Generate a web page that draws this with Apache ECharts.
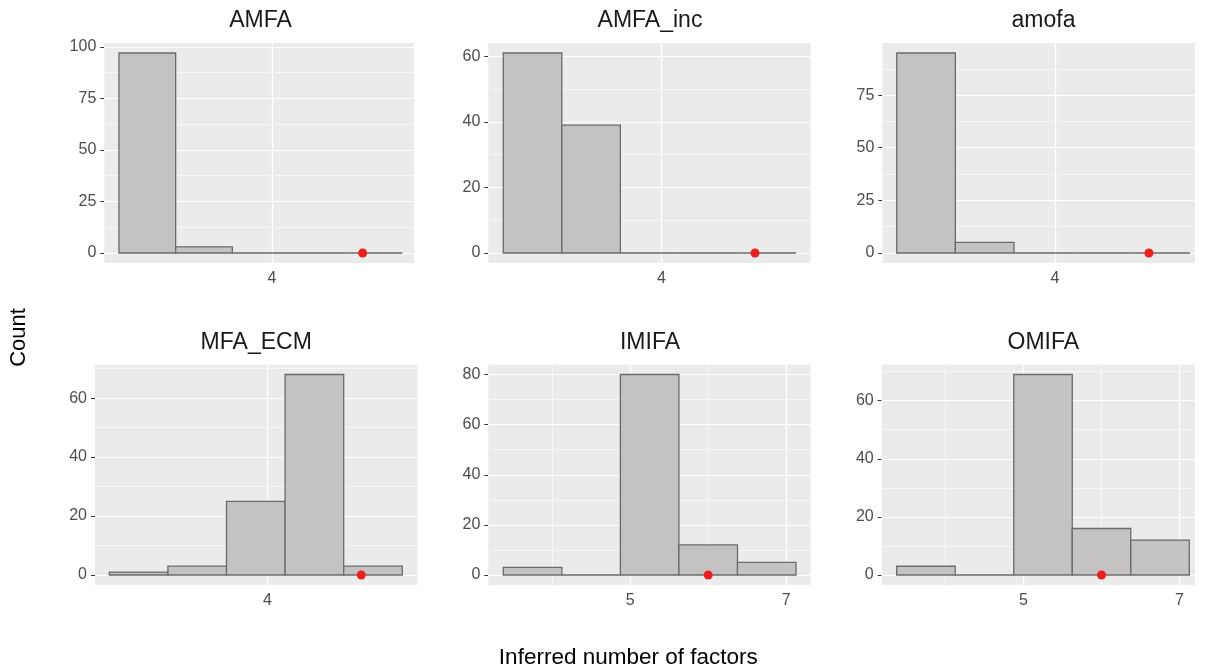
<!DOCTYPE html>
<html>
<head>
<meta charset="utf-8">
<script src="https://cdn.jsdelivr.net/npm/echarts@6/dist/echarts.min.js"></script>
<style>
html,body{margin:0;padding:0;background:#ffffff;}
#chart{width:1206px;height:671px;}
</style>
</head>
<body>
<div id="chart"></div>
<script>
// ---------------- data ----------------
const panelTitles = ['AMFA', 'AMFA_inc', 'amofa', 'MFA_ECM', 'IMIFA', 'OMIFA'];

// histogram bin edges (in "number of factors" units)
const binEdgesWide   = [0.625, 1.875, 3.125, 4.375, 5.625, 6.875];
const binEdgesNarrow = [3.375, 4.125, 4.875, 5.625, 6.375, 7.125];

// counts per bin
const countsAMFA    = [97, 3, 0, 0, 0];
const countsAMFAinc = [61, 39, 0, 0, 0];
const countsAmofa   = [95, 5, 0, 0, 0];
const countsMFAECM  = [1, 3, 25, 68, 3];
const countsIMIFA   = [3, 0, 80, 12, 5];
const countsOMIFA   = [3, 0, 69, 16, 12];

// true number of factors (red dot)
const trueFactors = 6;

// tick labels
const xTicks = [[4], [4], [4], [4], [5, 7], [5, 7]];
const xMinor = [[], [], [], [], [4, 6], [4, 6]];
const yTicks = [[0, 25, 50, 75, 100], [0, 20, 40, 60], [0, 25, 50, 75], [0, 20, 40, 60], [0, 20, 40, 60, 80], [0, 20, 40, 60]];
const yMinor = [[12.5, 37.5, 62.5, 87.5], [10, 30, 50], [12.5, 37.5, 62.5, 87.5], [10, 30, 50, 70], [10, 30, 50, 70], [10, 30, 50, 70]];

const xAxisTitle = 'Inferred number of factors';
const yAxisTitle = 'Count';

// ---------------- layout ----------------
const panelEdges = [binEdgesWide, binEdgesWide, binEdgesWide, binEdgesWide, binEdgesNarrow, binEdgesNarrow];
const panelCounts = [countsAMFA, countsAMFAinc, countsAmofa, countsMFAECM, countsIMIFA, countsOMIFA];

const layout = [
  {left: 104.3, top: 43,    width: 309.7, height: 220,   xMin: 0.301, xMax: 7.133, titleX: 260.5,  titleY: 20.7},
  {left: 488.3, top: 43,    width: 322.4, height: 220,   xMin: 0.305, xMax: 7.189, titleX: 650,    titleY: 20.7},
  {left: 882.3, top: 43,    width: 312.7, height: 220,   xMin: 0.318, xMax: 6.982, titleX: 1043.5, titleY: 20.7},
  {left: 95,    top: 364.5, width: 322.3, height: 220.5, xMin: 0.320, xMax: 7.195, titleX: 256.2,  titleY: 343},
  {left: 488.3, top: 364.5, width: 322.4, height: 220.5, xMin: 3.183, xMax: 7.313, titleX: 650,    titleY: 343},
  {left: 881.7, top: 364.5, width: 313.3, height: 220.5, xMin: 3.183, xMax: 7.198, titleX: 1043.3, titleY: 343}
];

const FONT = '"Liberation Sans", Arial, Helvetica, sans-serif';
const TITLE_FS = 23;

const grids = [], xAxes = [], yAxes = [], series = [], titles = [];

layout.forEach((L, i) => {
  const counts = panelCounts[i];
  const edges = panelEdges[i];
  const maxC = Math.max.apply(null, counts);
  grids.push({
    left: L.left, top: L.top, width: L.width, height: L.height,
    show: true, backgroundColor: '#EBEBEB', borderWidth: 0
  });
  titles.push({
    text: panelTitles[i], left: L.titleX, top: L.titleY - TITLE_FS / 2,
    textAlign: 'center', padding: 0,
    textStyle: {fontFamily: FONT, fontSize: TITLE_FS, fontWeight: 'normal', color: '#1A1A1A', lineHeight: TITLE_FS}
  });
  xAxes.push({
    gridIndex: i, type: 'value', min: L.xMin, max: L.xMax,
    axisLine: {show: false},
    axisTick: {show: true, length: 4, lineStyle: {color: '#333333', width: 1}, customValues: xTicks[i]},
    axisLabel: {customValues: xTicks[i], color: '#4D4D4D', fontSize: 16, fontFamily: FONT, margin: 8},
    splitLine: {show: false}
  });
  yAxes.push({
    gridIndex: i, type: 'value', min: -0.05 * maxC, max: 1.05 * maxC,
    axisLine: {show: false},
    axisTick: {show: true, length: 4, lineStyle: {color: '#333333', width: 1}, customValues: yTicks[i]},
    axisLabel: {customValues: yTicks[i], color: '#4D4D4D', fontSize: 16, fontFamily: FONT, margin: 8},
    splitLine: {show: false}
  });

  const gridLineData = [];
  yMinor[i].forEach(v => gridLineData.push({yAxis: v, lineStyle: {color: '#FFFFFF', width: 0.6, type: 'solid'}}));
  xMinor[i].forEach(v => gridLineData.push({xAxis: v, lineStyle: {color: '#FFFFFF', width: 0.6, type: 'solid'}}));
  yTicks[i].forEach(v => gridLineData.push({yAxis: v, lineStyle: {color: '#FFFFFF', width: 1.2, type: 'solid'}}));
  xTicks[i].forEach(v => gridLineData.push({xAxis: v, lineStyle: {color: '#FFFFFF', width: 1.2, type: 'solid'}}));

  series.push({
    type: 'line', xAxisIndex: i, yAxisIndex: i, data: [], silent: true, z: 1,
    markLine: {
      silent: true, symbol: 'none', z: 1, animation: false,
      label: {show: false}, emphasis: {disabled: true},
      data: gridLineData
    }
  });

  series.push({
    type: 'custom', xAxisIndex: i, yAxisIndex: i, z: 3, silent: true,
    data: counts.map((c, j) => [edges[j], edges[j + 1], c]),
    encode: {x: [0, 1], y: 2},
    renderItem: function (params, api) {
      const p0 = api.coord([api.value(0), api.value(2)]);
      const p1 = api.coord([api.value(1), 0]);
      return {
        type: 'rect',
        shape: {x: p0[0], y: p0[1], width: p1[0] - p0[0], height: p1[1] - p0[1]},
        style: {fill: '#C4C3C1', stroke: '#6B6B6B', lineWidth: 1.3}
      };
    }
  });

  series.push({
    type: 'scatter', xAxisIndex: i, yAxisIndex: i, z: 4, silent: true,
    data: [[trueFactors, 0]], symbol: 'circle', symbolSize: 9,
    itemStyle: {color: '#F01D1D', opacity: 1}
  });
});

const chart = echarts.init(document.getElementById('chart'), null, {renderer: 'canvas'});
chart.setOption({
  animation: false,
  backgroundColor: '#FFFFFF',
  title: titles,
  grid: grids,
  xAxis: xAxes,
  yAxis: yAxes,
  series: series,
  graphic: [
    {
      type: 'text', x: 18.7, y: 337.5, rotation: Math.PI / 2,
      style: {text: yAxisTitle, fontFamily: FONT, fontSize: 22, fill: '#000000', textAlign: 'center', textVerticalAlign: 'middle'}
    },
    {
      type: 'text', x: 628.3, y: 657.5,
      style: {text: xAxisTitle, fontFamily: FONT, fontSize: 22.5, fill: '#000000', textAlign: 'center', textVerticalAlign: 'middle'}
    }
  ]
});
</script>
</body>
</html>
